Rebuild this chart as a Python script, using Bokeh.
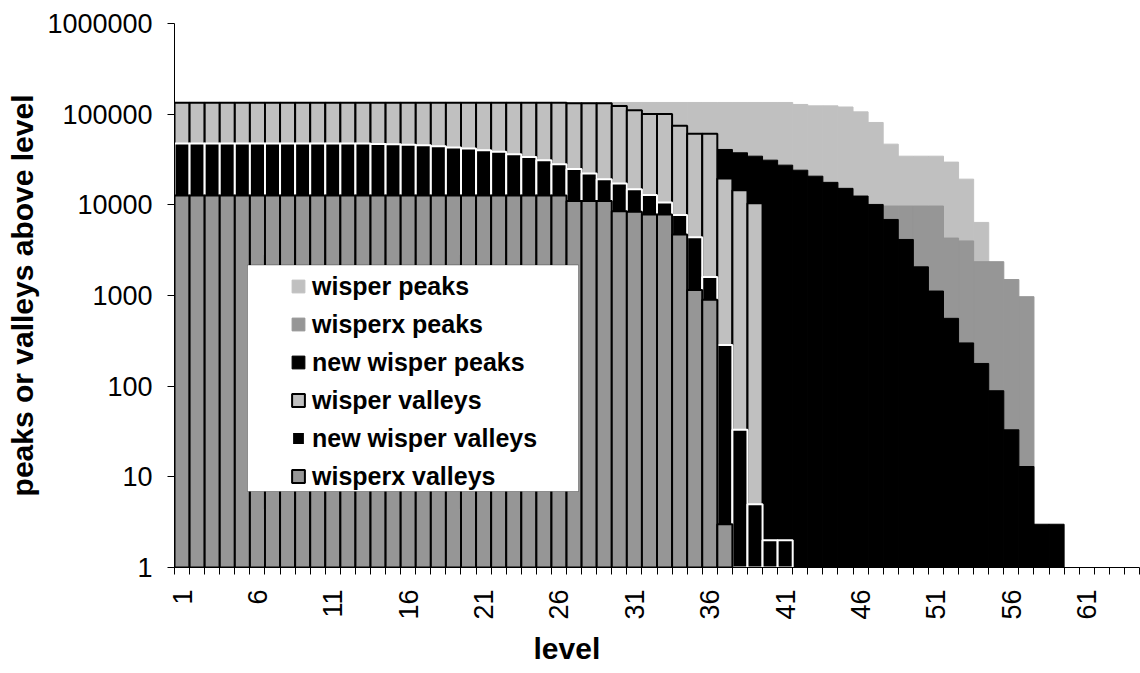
import math
from bokeh.plotting import figure
from bokeh.models import (Range1d, FixedTicker, PrintfTickFormatter, Legend, LegendItem,
                          BoxAnnotation, Title, ColumnDataSource)
from bokeh.embed import file_html
from bokeh.resources import INLINE

N = None
levels = list(range(1, 65))
x_tick_labels = [1, 6, 11, 16, 21, 26, 31, 36, 41, 46, 51, 56, 61]
y_ticks = [1, 10, 100, 1000, 10000, 100000, 1000000]

wisper_peaks = [
    134600, 134600, 134600, 134600, 134600, 134600, 134600, 134600, 134600, 134600,
    134600, 134600, 134600, 134600, 134600, 134600, 134600, 134600, 134600, 134600,
    134600, 134600, 134600, 134600, 134600, 134600, 134600, 134600, 134600, 134600,
    134600, 134600, 134600, 134600, 134600, 134600, 134600, 134600, 134600, 134600,
    134600, 128000, 123500, 123500, 120000, 106000, 81000, 46700, 34400, 34400,
    34400, 29600, 19200, 6400, N, N, N, N, N, N,
    N, N, N, N]

wisperx_peaks = [
    N, N, N, N, N, N, N, N, N, N,
    N, N, N, N, N, N, N, N, N, N,
    N, N, N, N, N, N, N, N, N, N,
    N, N, N, N, N, N, N, N, N, N,
    N, N, N, N, N, N, N, 9700, 9700, 9700,
    9700, 4300, 4000, 2360, 2360, 1500, 970, N, N, N,
    N, N, N, N]

new_wisper_peaks = [
    N, N, N, N, N, N, N, N, N, N,
    N, N, N, N, N, N, N, N, N, N,
    N, N, N, N, N, N, N, N, N, N,
    N, N, N, N, N, N, 40800, 37500, 34400, 31100,
    27400, 24100, 20700, 17700, 15200, 12500, 10100, 6900, 4150, 2070,
    1120, 560, 300, 178, 89, 33, 13, 3, 3, N,
    N, N, N, N]

wisper_valleys = [
    134000, 134000, 134000, 134000, 134000, 134000, 134000, 134000, 134000, 134000,
    134000, 134000, 134000, 134000, 134000, 134000, 134000, 134000, 134000, 134000,
    134000, 134000, 134000, 134000, 134000, 134000, 132000, 132000, 132000, 123000,
    110500, 100500, 100500, 74500, 61000, 61000, 19500, 14500, 10400, N,
    N, N, N, N, N, N, N, N, N, N,
    N, N, N, N, N, N, N, N, N, N,
    N, N, N, N]

new_wisper_valleys = [
    47500, 47500, 47500, 47500, 47500, 47500, 47500, 47500, 47500, 47500,
    47500, 47500, 47500, 47000, 46500, 46000, 45500, 44400, 42900, 41900,
    40100, 38400, 36200, 33800, 31100, 28100, 24800, 22200, 19200, 17200,
    14900, 12800, 10600, 7700, 4400, 1600, 284, 33, 5, 2,
    2, N, N, N, N, N, N, N, N, N,
    N, N, N, N, N, N, N, N, N, N,
    N, N, N, N]

wisperx_valleys = [
    12700, 12700, 12700, 12700, 12700, 12700, 12700, 12700, 12700, 12700,
    12700, 12700, 12700, 12700, 12700, 12700, 12700, 12700, 12700, 12700,
    12700, 12700, 12700, 12700, 12700, 12700, 11000, 11000, 11000, 8500,
    8400, 7800, 7800, 4700, 1150, 900, 3, N, N, N,
    N, N, N, N, N, N, N, N, N, N,
    N, N, N, N, N, N, N, N, N, N,
    N, N, N, N]

LIGHT = "#c0c0c0"
MID = "#969696"
BLACK = "#000000"
FONT = "Liberation Sans"

p = figure(width=1140, height=673, output_backend="svg", toolbar_location=None,
           x_range=Range1d(0.5, 64.5), y_range=Range1d(1, 1e6), y_axis_type="log",
           min_border_left=174, min_border_right=1, min_border_top=23, min_border_bottom=106)
p.outline_line_color = None
p.grid.visible = False
p.background_fill_color = "white"


def src(vals):
    xs = [lv for lv, v in zip(levels, vals) if v is not None]
    ts = [v for v in vals if v is not None]
    return ColumnDataSource(dict(x=xs, top=ts))


series = [
    ("wisper peaks", wisper_peaks, LIGHT, LIGHT, 1),
    ("wisperx peaks", wisperx_peaks, MID, MID, 1),
    ("new wisper peaks", new_wisper_peaks, BLACK, BLACK, 1),
    ("wisper valleys", wisper_valleys, LIGHT, BLACK, 2),
    ("new wisper valleys", new_wisper_valleys, BLACK, "white", 2),
    ("wisperx valleys", wisperx_valleys, MID, BLACK, 2),
]

items = []
for name, vals, fc, lc, lw in series:
    r = p.vbar(x="x", top="top", bottom=1, width=1.0, source=src(vals),
               fill_color=fc, line_color=lc, line_width=lw)
    items.append(LegendItem(label=name, renderers=[r]))

# x axis
xa = p.xaxis[0]
xa.ticker = FixedTicker(ticks=x_tick_labels, minor_ticks=[l - 0.5 for l in levels] + [64.5])
xa.major_tick_out = 0
xa.major_tick_in = 0
xa.minor_tick_out = 7
xa.minor_tick_in = 0
xa.major_label_orientation = math.pi / 2
xa.major_label_standoff = 15
xa.major_label_text_font = FONT
xa.major_label_text_font_size = "27px"
xa.major_label_text_color = "black"
xa.axis_line_color = "black"
xa.minor_tick_line_color = "black"

ya = p.yaxis[0]
ya.ticker = FixedTicker(ticks=y_ticks)
ya.formatter = PrintfTickFormatter(format="%d")
ya.major_tick_out = 7
ya.major_tick_in = 0
ya.minor_tick_out = 0
ya.minor_tick_in = 0
ya.major_label_standoff = 15
ya.major_label_text_font = FONT
ya.major_label_text_font_size = "27px"
ya.major_label_text_color = "black"
ya.axis_line_color = "black"
ya.major_tick_line_color = "black"
ya.axis_label = "peaks or valleys above level"
ya.axis_label_text_font = FONT
ya.axis_label_text_font_style = "bold"
ya.axis_label_text_font_size = "30px"
ya.axis_label_text_color = "black"
ya.axis_label_standoff = 5

# x axis title, placed under the category block like the original
xtitle = Title(text="level", align="left", offset=359, standoff=14,
               text_font=FONT, text_font_style="bold", text_font_size="30px",
               text_color="black")
p.add_layout(xtitle, "below")

# legend frame
box = BoxAnnotation(left=73, right=404, top=302.5, bottom=76,
                    left_units="screen", right_units="screen",
                    top_units="screen", bottom_units="screen",
                    fill_color="white", fill_alpha=1.0, line_color="black", line_width=1)
p.add_layout(box)

legend = Legend(items=items, location=(116, 76), orientation="vertical",
                glyph_width=16, glyph_height=16, label_height=30, spacing=8,
                padding=0, margin=0, label_standoff=6,
                label_text_font=FONT, label_text_font_style="bold",
                label_text_font_size="25px", label_text_color="black",
                border_line_color=None, background_fill_alpha=0)
p.add_layout(legend)

open("out.html", "w").write(file_html(p, INLINE))
